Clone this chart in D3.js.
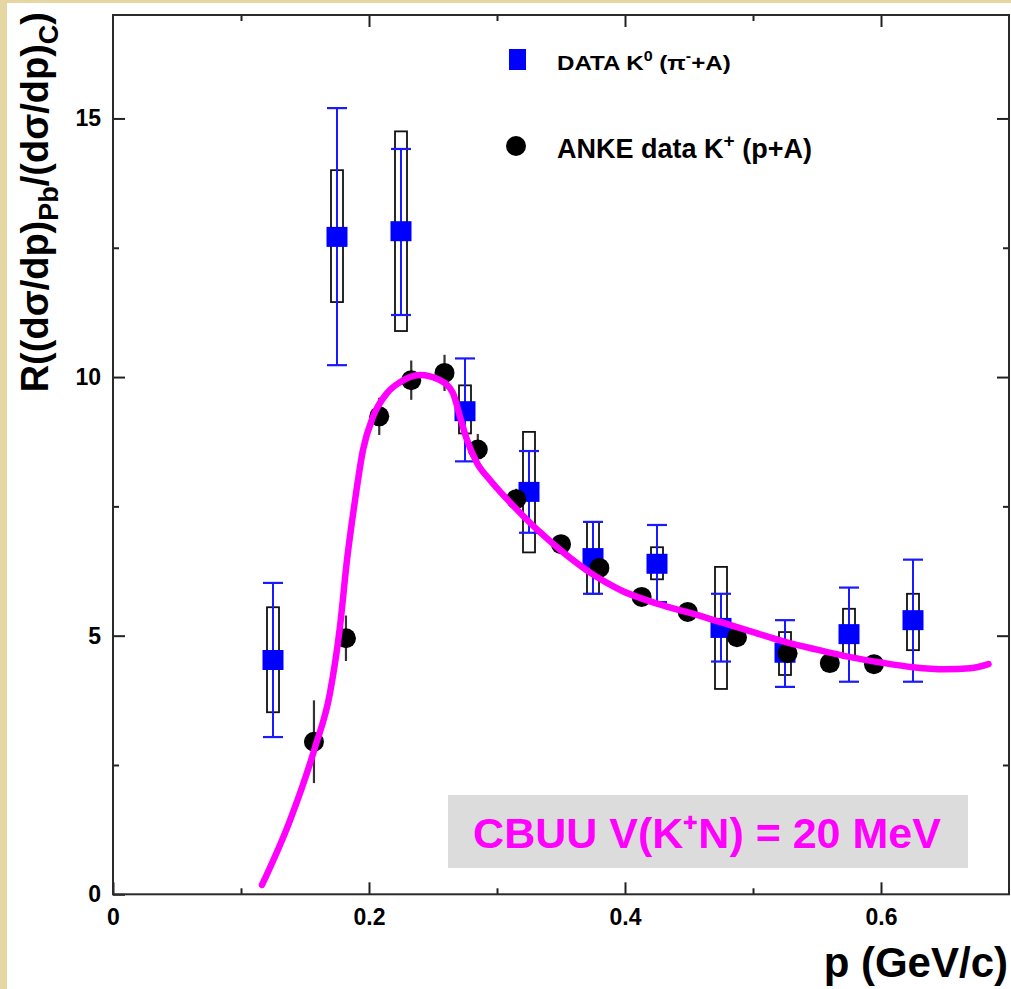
<!DOCTYPE html>
<html>
<head>
<meta charset="utf-8">
<script src="https://cdn.jsdelivr.net/npm/d3@7"></script>
<style>
  body { margin: 0; background: #ffffff; }
  svg { display: block; }
  text { font-family: "Liberation Sans", Arial, Helvetica, sans-serif; font-weight: bold; }
</style>
</head>
<body>
<svg id="chart" width="1011" height="989"></svg>
<script>
// ---- data ----
const xMajorTicks = [0, 0.2, 0.4, 0.6];
const xMinorTicks = [0.1, 0.3, 0.5];
const yMajorTicks = [0, 5, 10, 15];
const yMinorTicks = [2.5, 7.5, 12.5];

// DATA K0 (pi- + A)
const k0P      = [0.125, 0.175, 0.225, 0.275, 0.325, 0.375, 0.425, 0.475, 0.525, 0.575, 0.625];
const k0R      = [4.53, 12.71, 12.82, 9.34, 7.78, 6.50, 6.39, 5.15, 4.67, 5.03, 5.30];
const k0StatHi = [6.02, 15.20, 14.41, 10.36, 8.57, 7.20, 7.14, 5.81, 5.30, 5.93, 6.47];
const k0StatLo = [3.04, 10.23, 11.20, 8.37, 6.99, 5.81, 5.65, 4.50, 4.01, 4.11, 4.11];
const k0SysHi  = [5.55, 14.00, 14.75, 9.84, 8.94, 7.20, 6.71, 6.33, 5.07, 5.52, 5.81];
const k0SysLo  = [3.52, 11.45, 10.89, 8.91, 6.61, 5.81, 6.09, 3.97, 4.24, 4.57, 4.72];

// ANKE data K+ (p + A)
const ankeP   = [0.157, 0.182, 0.208, 0.233, 0.259, 0.285, 0.315, 0.350, 0.380, 0.413, 0.449, 0.4875, 0.527, 0.560, 0.5945];
const ankeR   = [2.95, 4.95, 9.24, 9.94, 10.08, 8.60, 7.64, 6.77, 6.31, 5.75, 5.46, 4.97, 4.66, 4.47, 4.45];
const ankeErr = [0.80, 0.44, 0.36, 0.38, 0.35, 0.30, 0.20, 0.15, 0.12, 0.10, 0.10, 0.10, 0.10, 0.10, 0.10];

// CBUU V(K+N) = 20 MeV curve
const cbuuP = [0.1164, 0.1383, 0.1578, 0.1695, 0.1773, 0.1828, 0.1891, 0.1953, 0.2031, 0.2141, 0.2242, 0.2398, 0.2555, 0.2656, 0.2711, 0.2766, 0.2844, 0.2945, 0.3078, 0.3203, 0.3336, 0.3469, 0.3594, 0.3727, 0.3859, 0.3984, 0.4117, 0.425, 0.4375, 0.4508, 0.475, 0.500, 0.525, 0.550, 0.575, 0.600, 0.625, 0.650, 0.670, 0.684];
const cbuuR = [0.18, 1.43, 2.84, 3.89, 5.17, 6.46, 7.62, 8.59, 9.23, 9.69, 9.90, 10.04, 9.94, 9.69, 9.23, 8.78, 8.34, 8.01, 7.64, 7.32, 7.00, 6.71, 6.46, 6.22, 6.02, 5.86, 5.73, 5.62, 5.53, 5.44, 5.26, 5.07, 4.88, 4.73, 4.59, 4.48, 4.39, 4.35, 4.37, 4.45];

const legendLabels = ["DATA K", "ANKE data K"];
const modelLabel = "CBUU V(K\u207AN) = 20 MeV";

// ---- drawing ----
const svg = d3.select("#chart");
const W = 1011, H = 989;

// beige frame
svg.append("rect").attr("x", 0).attr("y", 0).attr("width", W).attr("height", H).attr("fill", "#e6d6a2");
svg.append("rect").attr("x", 7).attr("y", 3).attr("width", W - 7).attr("height", H - 3).attr("fill", "#ffffff");

const x = d3.scaleLinear().domain([0, 0.7]).range([113, 1009]);
const y = d3.scaleLinear().domain([0, 17]).range([894.3, 15]);

// model box
svg.append("rect")
  .attr("x", 448).attr("y", 795).attr("width", 520).attr("height", 73)
  .attr("fill", "#dcdcdc");
svg.append("text")
  .attr("x", 707).attr("y", 848)
  .attr("text-anchor", "middle")
  .attr("font-size", 43)
  .attr("fill", "#ff00ff")
  .text(modelLabel);

const tickFont = g => g.selectAll("text").attr("font-size", 23)
  .attr("font-family", "Liberation Sans, Arial, sans-serif").attr("font-weight", "bold").attr("fill", "#000");
const tickLine = g => { g.select(".domain").remove(); g.selectAll("line").attr("stroke", "#222").attr("stroke-width", 2); };

// axes
const gx = svg.append("g").attr("transform", `translate(0,${y(0)})`)
  .call(d3.axisBottom(x).tickValues(xMajorTicks).tickSize(-12).tickPadding(14)
        .tickFormat(d => d === 0 ? "0" : d3.format(".1f")(d)));
tickLine(gx); tickFont(gx);
const gx2 = svg.append("g").attr("transform", `translate(0,${y(0)})`)
  .call(d3.axisBottom(x).tickValues(xMinorTicks).tickSize(-6).tickFormat(""));
tickLine(gx2);
const gxt = svg.append("g").attr("transform", `translate(0,${y(17)})`)
  .call(d3.axisTop(x).tickValues(xMajorTicks.slice(1)).tickSize(-12).tickFormat(""));
tickLine(gxt);
const gxt2 = svg.append("g").attr("transform", `translate(0,${y(17)})`)
  .call(d3.axisTop(x).tickValues(xMinorTicks).tickSize(-6).tickFormat(""));
tickLine(gxt2);

const gy = svg.append("g").attr("transform", `translate(${x(0)},0)`)
  .call(d3.axisLeft(y).tickValues(yMajorTicks).tickSize(-12).tickPadding(12).tickFormat(d3.format("d")));
tickLine(gy); tickFont(gy);
const gy2 = svg.append("g").attr("transform", `translate(${x(0)},0)`)
  .call(d3.axisLeft(y).tickValues(yMinorTicks).tickSize(-6).tickFormat(""));
tickLine(gy2);
const gyr = svg.append("g").attr("transform", `translate(${x(0.7)},0)`)
  .call(d3.axisRight(y).tickValues(yMajorTicks.slice(1)).tickSize(-12).tickFormat(""));
tickLine(gyr);
const gyr2 = svg.append("g").attr("transform", `translate(${x(0.7)},0)`)
  .call(d3.axisRight(y).tickValues(yMinorTicks).tickSize(-6).tickFormat(""));
tickLine(gyr2);

// frame
svg.append("rect")
  .attr("x", x(0)).attr("y", y(17))
  .attr("width", x(0.7) - x(0)).attr("height", y(0) - y(17))
  .attr("fill", "none").attr("stroke", "#2a2a2a").attr("stroke-width", 2);

// axis titles
const yt = svg.append("text")
  .attr("transform", "translate(48,12) rotate(-90)")
  .attr("text-anchor", "end")
  .attr("font-size", 38)
  .attr("fill", "#000");
yt.append("tspan").text("R((d\u03C3/dp)");
yt.append("tspan").attr("font-size", 27).attr("dy", 10).text("Pb");
yt.append("tspan").attr("dy", -10).text("/(d\u03C3/dp)");
yt.append("tspan").attr("font-size", 27).attr("dy", 10).text("C");
yt.append("tspan").attr("dy", -10).text(")");

svg.append("text")
  .attr("x", 1008).attr("y", 977)
  .attr("text-anchor", "end")
  .attr("font-size", 42)
  .attr("fill", "#000")
  .text("p (GeV/c)");

// K0 data
const k0 = k0P.map((p, i) => ({p, r: k0R[i], sh: k0SysHi[i], sl: k0SysLo[i], th: k0StatHi[i], tl: k0StatLo[i]}));
const gk = svg.append("g");
gk.selectAll("rect.sys").data(k0).join("rect").attr("class", "sys")
  .attr("x", d => x(d.p) - 6).attr("width", 12)
  .attr("y", d => y(d.sh)).attr("height", d => y(d.sl) - y(d.sh))
  .attr("fill", "none").attr("stroke", "#111").attr("stroke-width", 1.8);
gk.selectAll("line.stat").data(k0).join("line").attr("class", "stat")
  .attr("x1", d => x(d.p)).attr("x2", d => x(d.p))
  .attr("y1", d => y(d.th)).attr("y2", d => y(d.tl))
  .attr("stroke", "#1a1aff").attr("stroke-width", 2);
gk.selectAll("line.capT").data(k0).join("line").attr("class", "capT")
  .attr("x1", d => x(d.p) - 10).attr("x2", d => x(d.p) + 10)
  .attr("y1", d => y(d.th)).attr("y2", d => y(d.th))
  .attr("stroke", "#1a1aff").attr("stroke-width", 2.2);
gk.selectAll("line.capB").data(k0).join("line").attr("class", "capB")
  .attr("x1", d => x(d.p) - 10).attr("x2", d => x(d.p) + 10)
  .attr("y1", d => y(d.tl)).attr("y2", d => y(d.tl))
  .attr("stroke", "#1a1aff").attr("stroke-width", 2.2);
gk.selectAll("rect.mk").data(k0).join("rect").attr("class", "mk")
  .attr("x", d => x(d.p) - 10.5).attr("y", d => y(d.r) - 10)
  .attr("width", 21).attr("height", 20)
  .attr("fill", "#0000ff");

// ANKE data
const anke = ankeP.map((p, i) => ({p, r: ankeR[i], e: ankeErr[i]}));
const ga = svg.append("g");
ga.selectAll("line").data(anke).join("line")
  .attr("x1", d => x(d.p)).attr("x2", d => x(d.p))
  .attr("y1", d => y(d.r + d.e)).attr("y2", d => y(d.r - d.e))
  .attr("stroke", "#333").attr("stroke-width", 2.2);
ga.selectAll("circle").data(anke).join("circle")
  .attr("cx", d => x(d.p)).attr("cy", d => y(d.r)).attr("r", 10)
  .attr("fill", "#000");

// CBUU curve
const line = d3.line().x(d => x(d[0])).y(d => y(d[1])).curve(d3.curveMonotoneX);
svg.append("path")
  .datum(cbuuP.map((p, i) => [p, cbuuR[i]]))
  .attr("d", line)
  .attr("fill", "none").attr("stroke", "#ff00ff").attr("stroke-width", 6.5)
  .attr("stroke-linecap", "round").attr("stroke-linejoin", "round");

// legend
svg.append("rect").attr("x", 509).attr("y", 49).attr("width", 17).attr("height", 21).attr("fill", "#0000ff");
const l1 = svg.append("text").attr("transform", "translate(557,70) scale(1.15,1)").attr("font-size", 21).attr("fill", "#000");
l1.append("tspan").text(legendLabels[0]);
l1.append("tspan").attr("font-size", 14).attr("dy", -9).text("0");
l1.append("tspan").attr("dy", 9).text(" (\u03C0");
l1.append("tspan").attr("font-size", 14).attr("dy", -9).text("-");
l1.append("tspan").attr("dy", 9).text("+A)");

svg.append("circle").attr("cx", 516).attr("cy", 146).attr("r", 10).attr("fill", "#000");
const l2 = svg.append("text").attr("x", 557).attr("y", 158).attr("font-size", 27).attr("fill", "#000");
l2.append("tspan").text(legendLabels[1]);
l2.append("tspan").attr("font-size", 19).attr("dy", -11).text("+");
l2.append("tspan").attr("dy", 11).text(" (p+A)");
</script>
</body>
</html>
